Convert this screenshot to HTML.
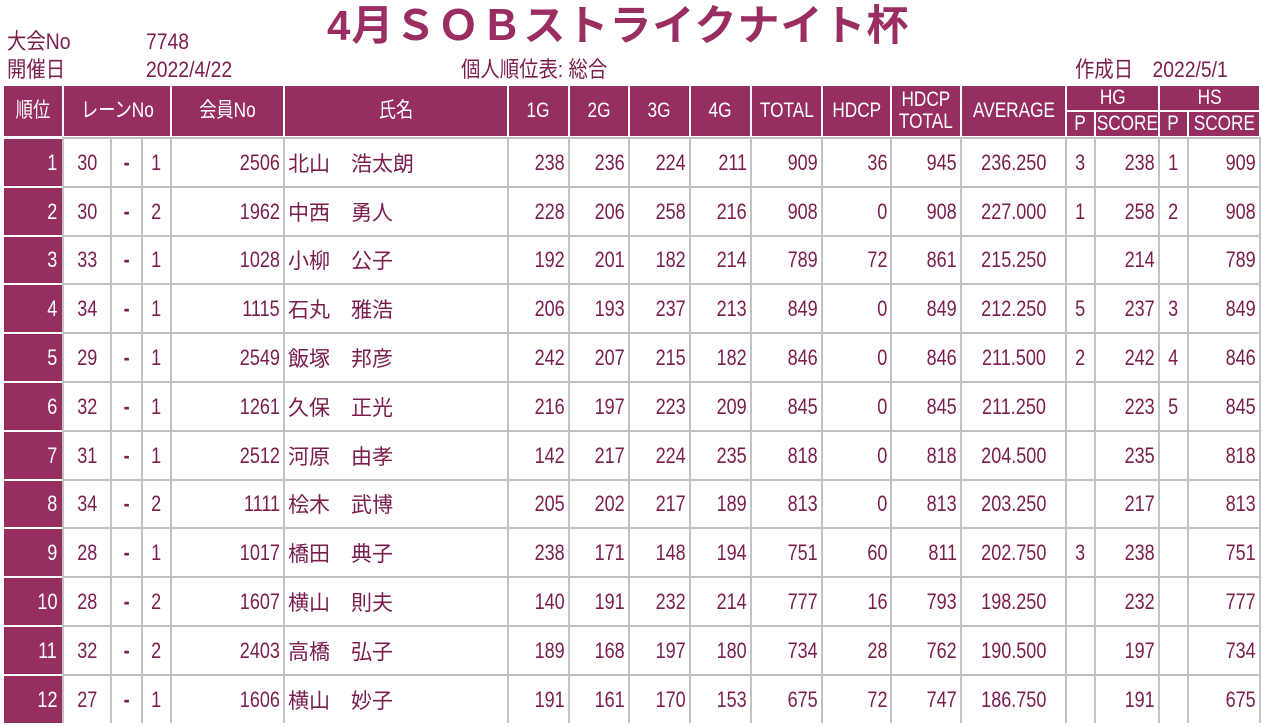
<!DOCTYPE html>
<html><head><meta charset="utf-8">
<style>
body{margin:0;width:1263px;height:726px;background:#fff;position:relative;overflow:hidden;font-family:"Liberation Sans","Noto Sans CJK JP",sans-serif;color:#7a1d4c}
.t{position:absolute;white-space:nowrap;font-size:22px;line-height:24px;transform:scaleX(0.88);transform-origin:left center}
.c{position:absolute;box-sizing:border-box;display:flex;align-items:center;font-size:22px;white-space:nowrap;overflow:hidden}
.c span{display:inline-block;transform:scaleX(0.82)}
.h{background:#962f60;color:#fff;justify-content:center;font-size:21px;text-align:center;line-height:22px}
.d{background:#fff;padding:0 3px}
#grid{position:absolute;left:62px;top:137px;width:1199px;height:586px;background:#c2c2c2}
</style></head><body>
<div class="t" style="left:327px;top:1px;font-size:42px;line-height:50px;font-weight:bold;color:#9a2d62;transform:none;letter-spacing:1px">4月ＳＯＢストライクナイト杯</div>
<div class="t" style="left:7px;top:30px">大会No</div>
<div class="t" style="left:146px;top:30px">7748</div>
<div class="t" style="left:7px;top:58px">開催日</div>
<div class="t" style="left:146px;top:58px">2022/4/22</div>
<div class="t" style="left:461px;top:58px">個人順位表: 総合</div>
<div class="t" style="left:1075px;top:58px">作成日　2022/5/1</div>
<div id="grid"></div>
<script>
const ranks=[1,2,3,4,5,6,7,8,9,10,11,12];
const laneA=[30,30,33,34,29,32,31,34,28,28,32,27];
const laneB=[1,2,1,1,1,1,1,2,1,2,2,1];
const memberNo=[2506,1962,1028,1115,2549,1261,2512,1111,1017,1607,2403,1606];
const names=["北山　浩太朗","中西　勇人","小柳　公子","石丸　雅浩","飯塚　邦彦","久保　正光","河原　由孝","桧木　武博","橋田　典子","横山　則夫","高橋　弘子","横山　妙子"];
const g1=[238,228,192,206,242,216,142,205,238,140,189,191];
const g2=[236,206,201,193,207,197,217,202,171,191,168,161];
const g3=[224,258,182,237,215,223,224,217,148,232,197,170];
const g4=[211,216,214,213,182,209,235,189,194,214,180,153];
const total=[909,908,789,849,846,845,818,813,751,777,734,675];
const hdcp=[36,0,72,0,0,0,0,0,60,16,28,72];
const hdcpTotal=[945,908,861,849,846,845,818,813,811,793,762,747];
const average=["236.250","227.000","215.250","212.250","211.500","211.250","204.500","203.250","202.750","198.250","190.500","186.750"];
const hgP=[3,1,"",5,2,"","","",3,"","",""];
const hgScore=[238,258,214,237,242,223,235,217,238,232,197,191];
const hsP=[1,2,"",3,4,5,"","","","","",""];
const hsScore=[909,908,789,849,846,845,818,813,751,777,734,675];

const cols=[[4,62],[64,110],[112,141],[143,170],[172,283],[285,507],[509,568],[570,628],[630,689],[691,750],[752,821],[823,890],[892,960],[962,1065],[1067,1094],[1096,1158],[1160,1187],[1189,1259]];
const colNames=["rank","lane-a","lane-dash","lane-b","member-no","name","g1","g2","g3","g4","total","hdcp","hdcp-total","average","hg-p","hg-score","hs-p","hs-score"];
const align=["flex-end","center","center","center","flex-end","flex-start","flex-end","flex-end","flex-end","flex-end","flex-end","flex-end","flex-end","center","center","flex-end","center","flex-end"];
const origin=["right","center","center","center","right","left","right","right","right","right","right","right","right","center","center","right","center","right"];

function cell(x1,y1,x2,y2,cls,txt,org){
  const e=document.createElement('div');
  e.className='c '+cls;
  e.style.left=x1+'px';e.style.top=y1+'px';e.style.width=(x2-x1)+'px';e.style.height=(y2-y1)+'px';
  const s=document.createElement('span');
  s.innerHTML=txt;
  s.style.transformOrigin=(org||'center')+' center';
  e.appendChild(s);
  document.body.appendChild(e);
  return e;
}
const hdr=[[0,0,"順位","rank-header"],[1,3,"レーンNo","lane-header"],[4,4,"会員No","member-no-header"],[5,5,"氏名","name-header"],[6,6,"1G","g1-header"],[7,7,"2G","g2-header"],[8,8,"3G","g3-header"],[9,9,"4G","g4-header"],[10,10,"TOTAL","total-header"],[11,11,"HDCP","hdcp-header"],[12,12,"HDCP<br>TOTAL","hdcp-total-header"],[13,13,"AVERAGE","average-header"]];
hdr.forEach(h=>{
  const e=cell(cols[h[0]][0],86,cols[h[1]][1],136,'h',h[2]);
  
  
});
const grp=[[14,15,"HG","hg-header"],[16,17,"HS","hs-header"]];
grp.forEach(h=>{
  const e=cell(cols[h[0]][0],86,cols[h[1]][1],110,'h',h[2]);
  
  
});
const sub=[[14,"P","hg-p-header"],[15,"SCORE","hg-score-header"],[16,"P","hs-p-header"],[17,"SCORE","hs-score-header"]];
sub.forEach(h=>{
  const e=cell(cols[h[0]][0],112,cols[h[0]][1],136,'h',h[1]);
  
  
});
const rowH=48.8;
ranks.forEach((r,i)=>{
  const y1=Math.round(139+i*rowH), y2=Math.round(139+(i+1)*rowH)-2;
  const vals=[r,laneA[i],"-",laneB[i],memberNo[i],names[i],g1[i],g2[i],g3[i],g4[i],total[i],hdcp[i],hdcpTotal[i],average[i],hgP[i],hgScore[i],hsP[i],hsScore[i]];
  vals.forEach((v,j)=>{
    const e=cell(cols[j][0],y1,cols[j][1],y2,j==0?'h':'d',v,origin[j]);
    e.style.justifyContent=align[j];
    if(j==0){e.style.padding='0 5px';e.style.fontSize='22px';}
    if(j==2){e.style.fontWeight='bold';}
    if(j==5){e.firstChild.style.transform='none';e.style.fontSize='21px';}
    
    
  });
});
</script>
</body></html>
